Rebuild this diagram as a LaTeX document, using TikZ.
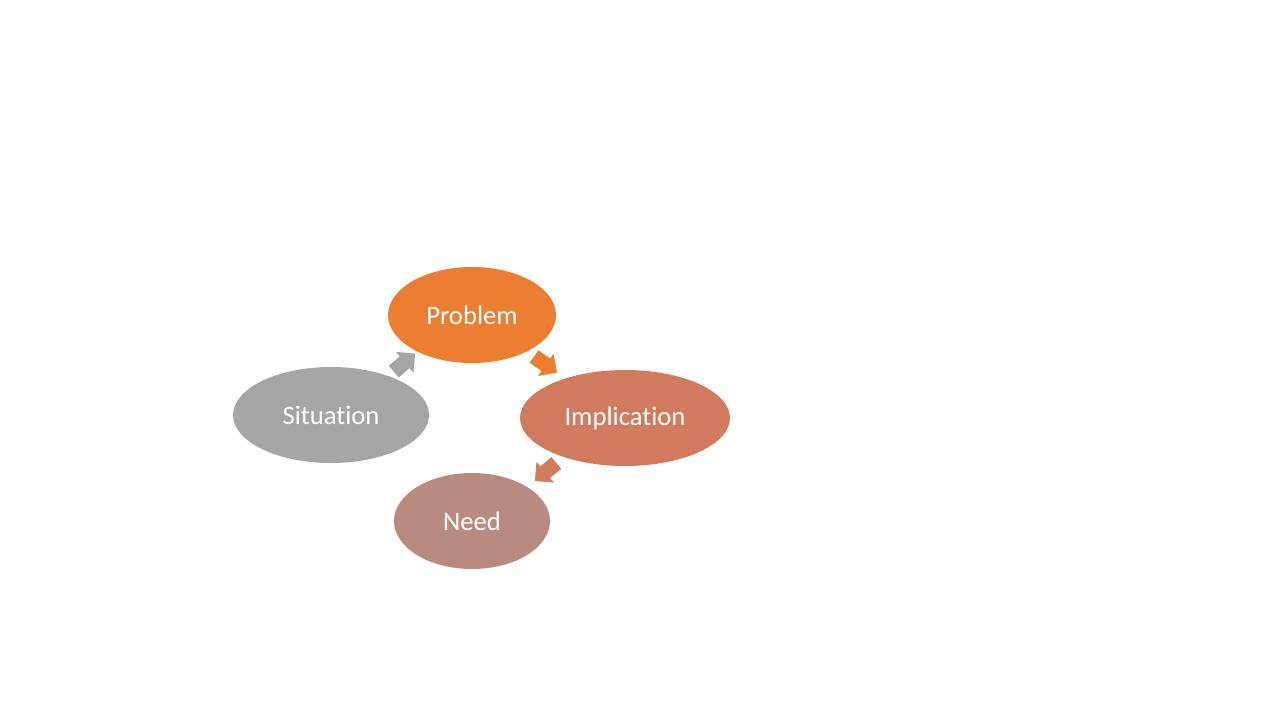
\documentclass[tikz,border=0pt]{standalone}
\usepackage{fontspec}
\setmainfont[Ligatures=NoCommon]{Carlito}
\usepackage{tikz}
\usetikzlibrary{calc, positioning, shapes.geometric, shapes.arrows}
\definecolor{orng}{HTML}{ED7D31}
\definecolor{impl}{HTML}{D17A5E}
\definecolor{need}{HTML}{B98A80}
\definecolor{sitg}{HTML}{A5A5A5}

\begin{document}
\begin{tikzpicture}[x=0.75pt, y=-0.75pt,
  stage/.style={ellipse, inner sep=0pt, minimum height=72pt, text=white,
    font=\fontsize{20}{24}\selectfont},
  blk/.style={single arrow, inner xsep=0pt, inner ysep=5.5pt, minimum height=21pt,
    single arrow head extend=4.5pt, single arrow head indent=0pt}]
\useasboundingbox (0,0) rectangle (1280,720);
\node[stage, fill=orng, minimum width=126pt] (prob) at (472,315) {Problem};
\node[stage, fill=impl, minimum width=157.5pt] (impl) at (625,418) {Implication};
\node[stage, fill=need, minimum width=117pt] (need) at (472,521) {Need};
\node[stage, fill=sitg, minimum width=147pt] (sit) at (331,415) {Situation};
\node[blk, fill=sitg, rotate=40] (a1) at ($(sit)!0.5!(prob)$) {};
\node[blk, fill=orng, rotate=-35] (a2) at ($(prob)!0.46!(impl)$) {};
\node[blk, fill=impl, rotate=-140] (a3) at ($(impl)!0.5!(need)$) {};
\end{tikzpicture}
\end{document}
